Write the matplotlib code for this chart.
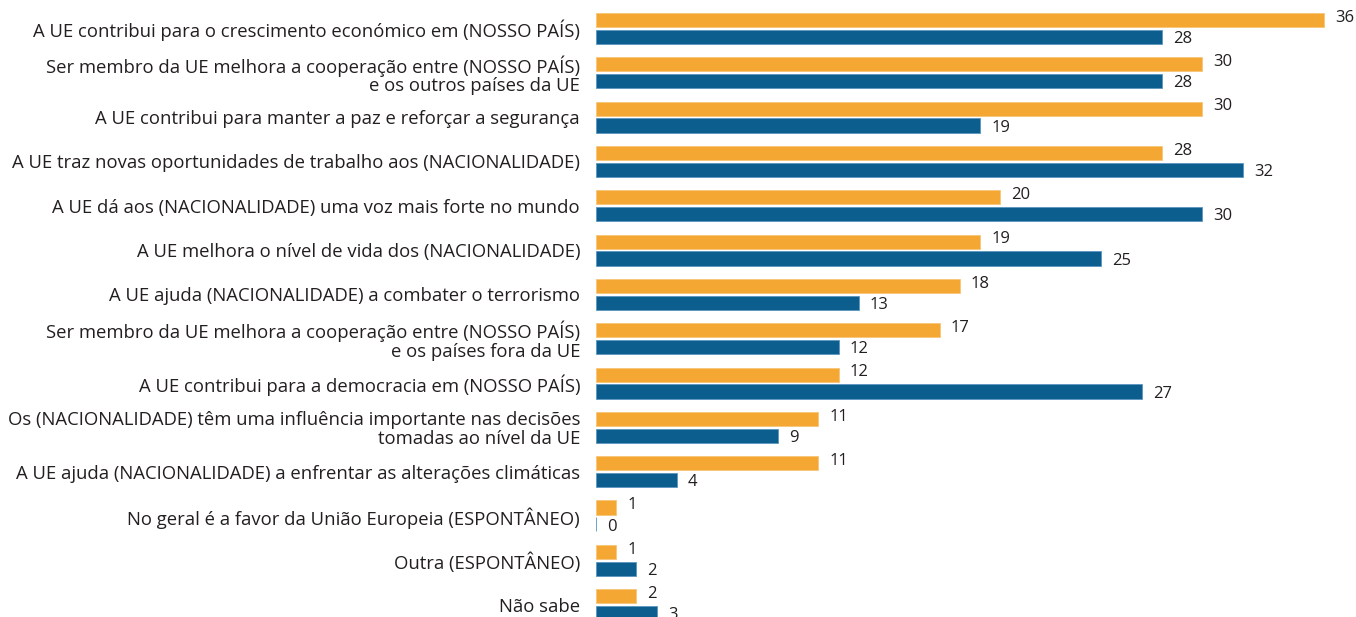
import numpy as np
import matplotlib
matplotlib.use("Agg")
import matplotlib.pyplot as plt

plt.rcParams['font.family'] = ['Open Sans', 'DejaVu Sans']

categories = [
    "A UE contribui para o crescimento económico em (NOSSO PAÍS)",
    "Ser membro da UE melhora a cooperação entre (NOSSO PAÍS)\ne os outros países da UE",
    "A UE contribui para manter a paz e reforçar a segurança",
    "A UE traz novas oportunidades de trabalho aos (NACIONALIDADE)",
    "A UE dá aos (NACIONALIDADE) uma voz mais forte no mundo",
    "A UE melhora o nível de vida dos (NACIONALIDADE)",
    "A UE ajuda (NACIONALIDADE) a combater o terrorismo",
    "Ser membro da UE melhora a cooperação entre (NOSSO PAÍS)\ne os países fora da UE",
    "A UE contribui para a democracia em (NOSSO PAÍS)",
    "Os (NACIONALIDADE) têm uma influência importante nas decisões\ntomadas ao nível da UE",
    "A UE ajuda (NACIONALIDADE) a enfrentar as alterações climáticas",
    "No geral é a favor da União Europeia (ESPONTÂNEO)",
    "Outra (ESPONTÂNEO)",
    "Não sabe",
]
orange_vals = [36, 30, 30, 28, 20, 19, 18, 17, 12, 11, 11, 1, 1, 2]
blue_vals = [28, 28, 19, 32, 30, 25, 13, 12, 27, 9, 4, 0, 2, 3]

ORANGE = "#F5A733"
BLUE = "#0B5E8E"
TEXT = "#231f20"

fig = plt.figure(figsize=(13.56, 6.17), dpi=100)
ax = fig.add_axes([596 / 1356, 0, 760 / 1356, 1])

y = np.arange(len(categories))
off = 0.19
h = 0.32
ax.barh(y - off, orange_vals, height=h, color=ORANGE, edgecolor="#f8c57a", linewidth=0.6)
ax.barh(y + off, blue_vals, height=h, color=BLUE, edgecolor="#5b95bf", linewidth=0.6)

for i in range(len(categories)):
    ax.text(orange_vals[i] + 0.55, y[i] - off - 0.05, str(orange_vals[i]),
            va="center", ha="left", fontsize=12, color=TEXT)
    ax.text(blue_vals[i] + 0.55, y[i] + off + 0.05, str(blue_vals[i]),
            va="center", ha="left", fontsize=12, color=TEXT)

ax.set_xlim(0, 37.6)
ax.set_ylim(13.28, -0.643)
ax.set_yticks(y)
ax.set_yticklabels(categories, fontsize=13.3, color=TEXT, linespacing=1.05)
ax.tick_params(axis="y", length=0, pad=11.5)
ax.set_xticks([])
for s in ax.spines.values():
    s.set_visible(False)

fig.savefig("out.png", dpi=100)
